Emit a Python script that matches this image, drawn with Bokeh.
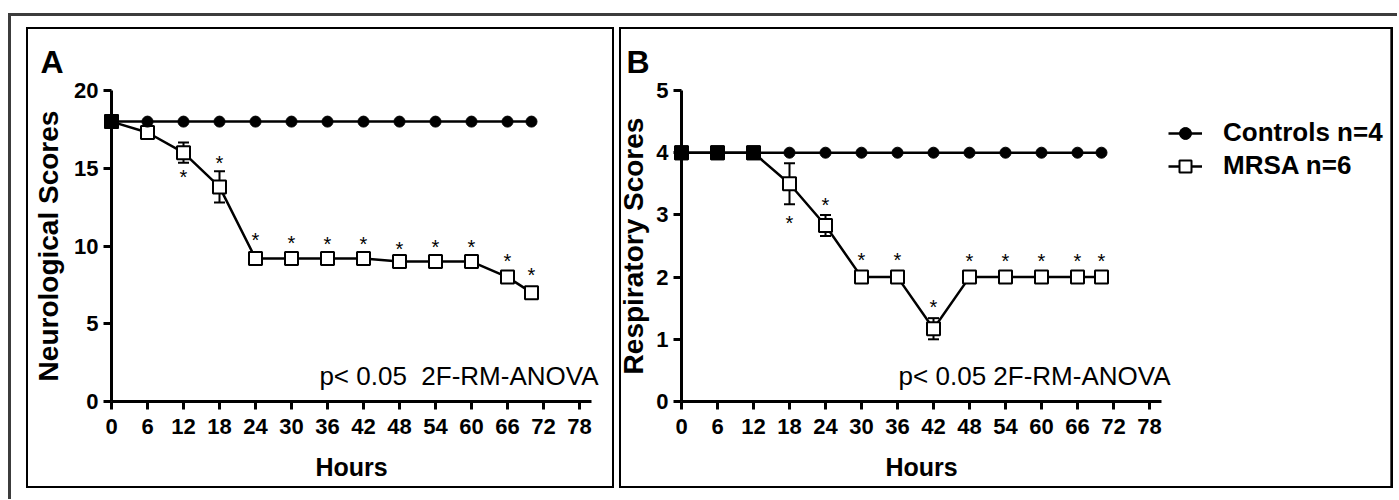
import numpy as np
from bokeh.plotting import figure
from bokeh.models import (FixedTicker, Label, Legend, LegendItem, Whisker, TeeHead,
                          ColumnDataSource, Spacer, Row, Column)
from bokeh.embed import file_html
from bokeh.resources import INLINE
from bokeh.core.properties import value

# ---------------- data ----------------
hours = [0, 6, 12, 18, 24, 30, 36, 42, 48, 54, 60, 66, 70]
x_ticks = [0, 6, 12, 18, 24, 30, 36, 42, 48, 54, 60, 66, 72, 78]

neuro_yticks = [0, 5, 10, 15, 20]
neuro_control = [18, 18, 18, 18, 18, 18, 18, 18, 18, 18, 18, 18, 18]
neuro_mrsa = [18, 17.3, 16.0, 13.8, 9.2, 9.2, 9.2, 9.2, 9.0, 9.0, 9.0, 8.0, 7.0]
neuro_mrsa_err = [0, 0.3, 0.65, 1.0, 0.2, 0.2, 0.2, 0.2, 0.2, 0.2, 0.2, 0.3, 0.2]
neuro_star_hours = [12, 18, 24, 30, 36, 42, 48, 54, 60, 66, 70]
neuro_star_y = [14.65, 15.55, 10.55, 10.4, 10.3, 10.3, 10.0, 10.1, 10.1, 9.2, 8.3]

resp_yticks = [0, 1, 2, 3, 4, 5]
resp_control = [4, 4, 4, 4, 4, 4, 4, 4, 4, 4, 4, 4, 4]
resp_mrsa = [4, 4, 4, 3.5, 2.83, 2.0, 2.0, 1.17, 2.0, 2.0, 2.0, 2.0, 2.0]
resp_mrsa_err = [0, 0, 0, 0.33, 0.17, 0, 0, 0.17, 0, 0, 0, 0, 0]
resp_star_hours = [18, 24, 30, 36, 42, 48, 54, 60, 66, 70]
resp_star_y = [2.91, 3.2, 2.32, 2.32, 1.57, 2.3, 2.3, 2.3, 2.3, 2.3]

labels = ["Controls n=4", "MRSA n=6"]
FONT = "Liberation Sans"

# ---------------- geometry (pixels) ----------------
PANEL_H = 461          # panel height
AXIS_X_END = 80        # extent of the x axis line (hours)
PX_PER_HOUR = 6.0
Y_AXIS_PX = 311.0      # length of the y axis in pixels
AXIS_BOTTOM = 87       # px from panel bottom to x axis
AXIS_TOP = 63          # px from panel top to top of y axis


def make_panel(letter, ylabel, ymax, yticks, control, mrsa, err, star_h, star_y,
               ptext, width, axis_left, ylabel_px, letter_px, ptext_px, edge):
    sy = Y_AXIS_PX / ymax
    x0 = -axis_left / PX_PER_HOUR
    x1 = x0 + width / PX_PER_HOUR
    y0 = -AXIS_BOTTOM / sy
    y1 = ymax + AXIS_TOP / sy
    p = figure(width=width, height=PANEL_H, x_range=(x0, x1), y_range=(y0, y1),
               output_backend="svg", toolbar_location=None, min_border=0,
               background_fill_color=None, border_fill_color=None,
               styles={"background-color": "white", "box-shadow": edge})
    p.outline_line_color = None
    p.grid.visible = False

    for ax in (p.xaxis, p.yaxis):
        ax.fixed_location = 0
        ax.axis_line_width = 3
        ax.axis_line_color = "black"
        ax.major_tick_line_width = 3
        ax.major_tick_line_color = "black"
        ax.major_tick_out = 8
        ax.major_tick_in = 0
        ax.minor_tick_line_color = None
        ax.major_label_text_font = FONT
        ax.major_label_text_font_style = "bold"
        ax.major_label_text_font_size = "22px"
        ax.major_label_text_color = "black"
    p.xaxis.ticker = FixedTicker(ticks=x_ticks)
    p.xaxis.bounds = (0, AXIS_X_END)
    p.xaxis.major_label_standoff = 9
    p.yaxis.ticker = FixedTicker(ticks=yticks)
    p.yaxis.bounds = (0, ymax)
    p.yaxis.major_label_standoff = 5

    # axis titles
    p.add_layout(Label(x=ylabel_px / PX_PER_HOUR, y=ymax / 2, text=ylabel,
                       angle=np.pi / 2, text_align="center",
                       text_baseline="middle", text_font=FONT,
                       text_font_style="bold", text_font_size="28px",
                       text_color="black"))
    p.add_layout(Label(x=AXIS_X_END / 2, y=-65 / sy, text="Hours",
                       text_align="center", text_baseline="middle",
                       text_font=FONT, text_font_style="bold",
                       text_font_size="25px", text_color="black"))
    # panel letter
    p.add_layout(Label(x=letter_px / PX_PER_HOUR, y=ymax + 28.5 / sy,
                       text=letter, text_align="left", text_baseline="middle",
                       text_font=FONT, text_font_style="bold",
                       text_font_size="32px", text_color="black"))
    # statistics note
    p.add_layout(Label(x=ptext_px / PX_PER_HOUR, y=26 / sy, text=ptext,
                       text_align="right", text_baseline="middle",
                       text_font=FONT, text_font_size="26px",
                       text_color="black"))

    mrsa_arr = np.array(mrsa, dtype=float)
    err_arr = np.array(err, dtype=float)
    ctrl_arr = np.array(control, dtype=float)
    src = ColumnDataSource(dict(x=hours, y=mrsa, upper=list(mrsa_arr + err_arr),
                                lower=list(mrsa_arr - err_arr)))
    wh = Whisker(source=src, base="x", upper="upper", lower="lower",
                 line_width=2, line_color="black",
                 upper_head=TeeHead(size=11, line_width=2, line_color="black"),
                 lower_head=TeeHead(size=11, line_width=2, line_color="black"))
    p.add_layout(wh)

    l_m = p.line(hours, mrsa, line_width=2.5, line_color="black")
    s_m = p.scatter(hours, mrsa, marker="square", size=13, line_width=2,
                    line_color="black", fill_color="white")
    l_c = p.line(hours, control, line_width=2.5, line_color="black")
    s_c = p.scatter(hours, control, marker="circle", size=11,
                    line_color="black", fill_color="black")
    overlap = np.isclose(mrsa_arr, ctrl_arr)
    hx = list(np.array(hours)[overlap])
    hy = list(mrsa_arr[overlap])
    p.scatter(hx, hy, marker="square", size=13, line_width=2,
              line_color="black", fill_color="black")

    p.text(star_h, star_y, text=["*"] * len(star_h), text_align="center",
           text_baseline="middle", y_offset=3,
           text_font=value(FONT), text_font_size="20px", text_color="black")
    return p, (l_c, s_c, l_m, s_m)


pA, _ = make_panel("A", "Neurological Scores", 20, neuro_yticks, neuro_control,
                   neuro_mrsa, neuro_mrsa_err, neuro_star_hours, neuro_star_y,
                   "p< 0.05 \u00a02F-RM-ANOVA", 588, 85, -63.5, -71, 487,
                   "inset 0 0 0 2px #000")
pB, rr = make_panel("B", "Respiratory Scores", 5, resp_yticks, resp_control,
                    resp_mrsa, resp_mrsa_err, resp_star_hours, resp_star_y,
                    "p< 0.05 2F-RM-ANOVA", 774, 62, -48, -55, 489,
                    "inset 0 0 0 2px #000, inset -3px 0 0 #555")

l_c, s_c, l_m, s_m = rr
legend = Legend(items=[LegendItem(label=labels[0], renderers=[l_c, s_c]),
                       LegendItem(label=labels[1], renderers=[l_m, s_m])],
                location=(549, 307), orientation="vertical",
                border_line_color=None, background_fill_alpha=0,
                padding=0, margin=0, spacing=2, glyph_width=34, glyph_height=30,
                label_height=30, label_standoff=21,
                label_text_font=FONT, label_text_font_style="bold",
                label_text_font_size="26px", label_text_color="black",
                label_text_baseline="middle")
pB.add_layout(legend, "center")

panels = Row(children=[Spacer(width=18), pA, Spacer(width=5), pB, Spacer(width=4)])
framed = Column(children=[Spacer(height=14), panels, Spacer(height=11)],
                styles={"box-shadow": "inset 3px 0 0 #3c3c3c, inset 0 3px 0 #3c3c3c"})
page = Column(children=[Spacer(height=13), Row(children=[Spacer(width=8), framed])])

open("out.html", "w").write(file_html(page, INLINE))
